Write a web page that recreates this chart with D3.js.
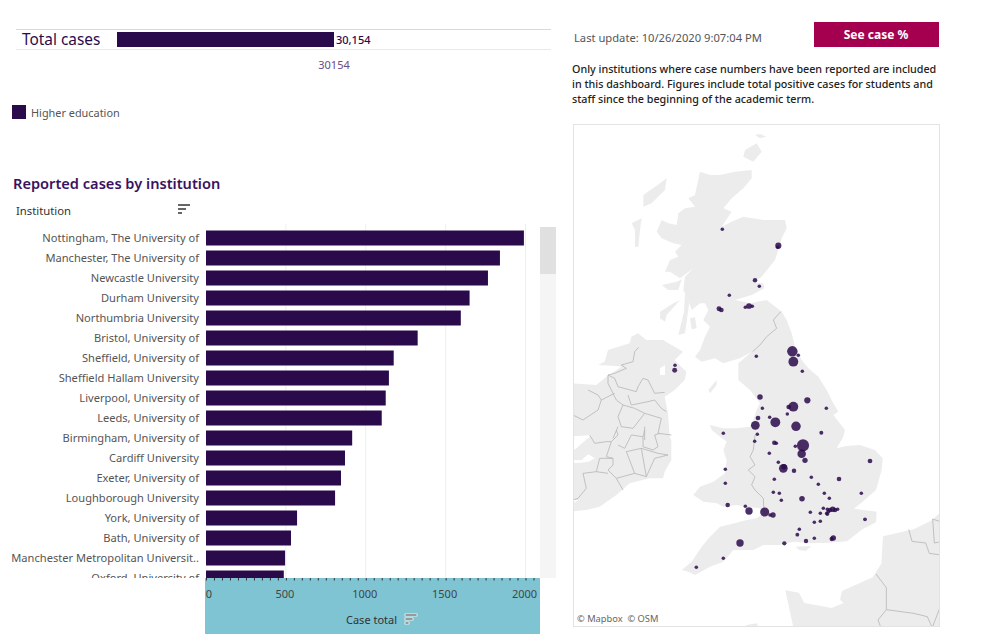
<!DOCTYPE html>
<html><head><meta charset="utf-8">
<style>html,body{margin:0;padding:0;background:#fff}svg{display:block}text{font-family:"Noto Sans",sans-serif}</style>
<script src="https://cdn.jsdelivr.net/npm/d3@7"></script></head><body>
<svg id="c" width="984" height="639"></svg>
<script>
const institutions=["Nottingham, The University of","Manchester, The University of","Newcastle University","Durham University","Northumbria University","Bristol, University of","Sheffield, University of","Sheffield Hallam University","Liverpool, University of","Leeds, University of","Birmingham, University of","Cardiff University","Exeter, University of","Loughborough University","York, University of","Bath, University of","Manchester Metropolitan Universit..","Oxford, University of"];
const caseTotals=[1990,1840,1765,1650,1595,1325,1175,1145,1125,1100,915,870,845,808,570,532,495,487];
const xTicks=[0,500,1000,1500,2000];
const totalCases=30154;
const noteLines=["Only institutions where case numbers have been reported are included","in this dashboard. Figures include total positive cases for students and","staff since the beginning of the academic term."];
// map grid units, [east, south, reported cases]
const mapPoints=[[487,328,25],[655,377,280],[653,382,25],[585,481,90],[598,499,25],[508,526,25],[567,558,220],[556,562,25],[577,559,25],[477,566,130],[484,570,110],[697,694,1300],[715,706,25],[700,725,1100],[589,709,25],[727,754,25],[345,736,25],[344,751,130],[600,831,200],[742,841,300],[700,860,1100],[686,861,100],[607,865,25],[799,865,25],[682,882,25],[594,894,110],[629,892,25],[586,916,800],[646,907,1100],[708,919,1000],[784,938,50],[490,940,25],[592,943,25],[584,964,25],[643,968,90],[649,970,25],[729,976,1900],[706,979,25],[725,1001,750],[735,1021,170],[628,1000,25],[930,1023,110],[655,1027,25],[670,1045,800],[672,1040,200],[702,1052,90],[496,1048,25],[754,1072,25],[837,1077,100],[643,1078,25],[775,1093,25],[496,1090,25],[793,1120,25],[640,1117,25],[658,1120,25],[904,1120,25],[664,1141,25],[808,1135,25],[726,1136,200],[503,1155,90],[556,1159,25],[567,1173,500],[614,1176,900],[639,1185,180],[630,1185,25],[818,1168,200],[810,1170,90],[825,1170,90],[790,1165,25],[802,1168,25],[833,1168,25],[805,1175,40],[800,1180,25],[802,1183,25],[751,1177,25],[781,1180,25],[763,1207,25],[781,1204,25],[915,1198,40],[718,1228,25],[712,1244,40],[673,1270,70],[738,1263,80],[763,1255,25],[820,1254,170],[815,1257,70],[540,1269,500],[490,1315,25],[409,1342,25]];
const britain=[[420,155],[450,165],[480,165],[525,155],[575,150],[575,175],[550,205],[515,235],[490,265],[515,275],[495,305],[485,320],[515,305],[550,290],[610,300],[675,300],[680,325],[665,355],[650,405],[645,420],[605,470],[580,488],[610,490],[613,505],[575,525],[525,540],[570,550],[620,540],[665,575],[680,600],[695,640],[705,680],[725,720],[745,745],[775,770],[800,810],[820,850],[835,875],[820,885],[855,930],[850,950],[830,985],[860,978],[900,975],[945,990],[968,1015],[965,1050],[948,1110],[907,1146],[882,1166],[950,1175],[948,1207],[907,1228],[861,1264],[794,1269],[753,1269],[700,1265],[660,1275],[610,1275],[580,1290],[550,1290],[520,1290],[490,1325],[450,1340],[405,1365],[385,1355],[365,1350],[395,1325],[425,1280],[450,1250],[480,1220],[530,1208],[560,1200],[590,1195],[610,1180],[600,1165],[560,1160],[530,1155],[490,1160],[470,1150],[430,1145],[400,1125],[420,1100],[460,1085],[495,1060],[500,1020],[490,990],[500,965],[455,930],[450,915],[490,925],[530,925],[570,920],[580,900],[590,870],[600,850],[570,810],[535,780],[535,730],[575,695],[540,715],[490,730],[465,715],[425,725],[405,710],[420,690],[435,650],[450,620],[430,600],[445,570],[435,550],[420,550],[395,570],[385,540],[370,510],[375,470],[400,445],[360,475],[330,455],[315,455],[330,420],[355,410],[345,395],[365,375],[340,370],[305,355],[290,335],[305,300],[325,310],[350,315],[355,280],[375,265],[405,260],[385,235],[405,225],[410,200]];
const scottishIslands=[[[320,175],[300,190],[250,225],[250,260],[275,250],[315,210]],[[215,310],[245,295],[240,330],[235,380],[225,380],[225,330]],[[305,495],[350,485],[365,478],[355,510],[325,510]],[[555,90],[590,70],[605,95],[580,125],[550,110]],[[585,45],[600,42],[620,50],[600,55]],[[355,645],[375,640],[382,590],[388,545],[375,520],[372,575]],[[390,595],[405,592],[410,625],[395,628]],[[300,575],[340,550],[360,540],[320,585],[315,605],[300,595]],[[445,810],[470,780],[470,795],[450,820]],[[707,1280],[753,1278],[738,1293],[717,1290]]];
const ireland=[[114,735],[134,725],[144,690],[209,670],[214,650],[234,640],[259,660],[309,660],[369,695],[344,720],[379,755],[374,780],[344,810],[314,830],[324,880],[329,950],[334,960],[334,1020],[314,1055],[309,1075],[269,1075],[209,1090],[169,1125],[119,1160],[79,1170],[30,1175],[30,790],[109,795],[139,770],[184,740],[169,738]];
const continent=[[676,1411],[717,1418],[733,1449],[763,1454],[815,1464],[851,1449],[840,1439],[846,1413],[938,1372],[964,1331],[969,1249],[1061,1228],[1113,1202],[1154,1166],[1154,1531],[702,1531]];
const brittany=[[540,1530],[560,1515],[590,1510],[600,1530]];
const lakes=[[[300,745],[315,735],[315,765],[300,765]],[[30,950],[95,945],[60,975],[50,985],[30,995]],[[30,1020],[64,1021],[85,1003],[105,1015],[85,1025],[64,1028],[30,1030]],[[30,1143],[55,1140],[35,1152]]];
const borders=[[[662,575],[640,600],[650,625],[620,650],[600,675],[578,695]],[[585,945],[580,990],[570,1010],[585,1035],[565,1050],[585,1070],[575,1095],[585,1110],[610,1135],[612,1175]],[[236,682],[224,695],[219,725],[184,735],[199,745],[164,760],[144,765],[164,775],[174,800],[229,815],[234,800],[249,775],[264,780],[284,820],[314,817]],[[144,765],[144,790],[169,840],[189,855],[174,890],[184,920],[219,925],[254,880],[224,865],[189,855]],[[84,810],[114,825],[124,840],[164,820]],[[124,840],[114,870],[69,900],[39,885]],[[204,825],[214,855],[264,845],[284,840],[304,865],[319,875]],[[254,880],[304,895],[294,940],[334,945]],[[174,920],[159,955]],[[254,920],[254,960]],[[169,930],[174,945],[154,965],[139,1010],[159,1015],[159,1035],[144,1050],[169,1075],[189,1110]],[[89,945],[104,970],[139,965],[154,965]],[[174,975],[194,985],[214,945],[249,950],[249,980],[279,990],[294,980],[284,945],[299,940]],[[254,930],[249,950]],[[199,995],[244,985],[259,1070],[224,1060],[199,995]],[[244,985],[294,1000],[324,1005],[284,1015],[259,1070]],[[69,1060],[79,1105],[54,1135],[39,1140]],[[69,1060],[109,1055],[144,1060]],[[109,1055],[119,1015],[159,1015]],[[224,1060],[169,1075]],[[1046,1228],[1056,1264],[1097,1269],[1108,1300],[1143,1305],[1143,1331]],[[1118,1197],[1123,1269],[1149,1264]],[[1118,1197],[1149,1208]],[[948,1362],[979,1403],[979,1469],[954,1500],[964,1526]],[[979,1469],[1061,1480],[1102,1490],[1118,1526]],[[1118,1520],[1143,1454]]];

const ink="#2b0a4c",svg=d3.select("#c");
// top summary
svg.append("line").attr("x1",16).attr("x2",551).attr("y1",29.5).attr("y2",29.5).attr("stroke","#d9d9d9");
svg.append("line").attr("x1",16).attr("x2",551).attr("y1",49.5).attr("y2",49.5).attr("stroke","#e9e9e9");
svg.append("text").attr("x",22).attr("y",45).attr("font-size",15.4).attr("fill",ink).text("Total cases");
const xTotal=d3.scaleLinear().domain([0,totalCases]).range([117,334]);
svg.append("rect").attr("x",xTotal(0)).attr("y",32).attr("width",xTotal(totalCases)-xTotal(0)).attr("height",15).attr("fill",ink);
svg.append("text").attr("x",336).attr("y",44).attr("font-size",11).attr("font-weight",500).attr("fill",ink).text(d3.format(",")(totalCases));
svg.append("text").attr("x",xTotal(totalCases)).attr("y",69).attr("text-anchor","middle").attr("font-size",11).attr("fill","#6a4c86").text(totalCases);
svg.append("rect").attr("x",12).attr("y",105).attr("width",14).attr("height",14).attr("fill",ink);
svg.append("text").attr("x",31).attr("y",117).attr("font-size",10.9).attr("fill","#555").text("Higher education");
svg.append("text").attr("x",13).attr("y",189).attr("font-size",14.6).attr("font-weight",600).attr("fill","#3a1260").text("Reported cases by institution");
svg.append("text").attr("x",16).attr("y",215).attr("font-size",11.3).attr("fill","#333").text("Institution");
function sortIcon(g,x,y,c,edge){[12,8,4].forEach((w,i)=>{const b=g.append("rect").attr("x",x).attr("y",y+i*4).attr("width",w).attr("height",2).attr("fill",c);if(edge)b.attr("stroke","#fff").attr("stroke-width",.8);});}
sortIcon(svg,178,204,"#666",false);

// bars
const x=d3.scaleLinear().domain([0,2000]).range([206,525.5]);
const y=d3.scaleBand().domain(institutions).range([228,588]).paddingInner(.25).paddingOuter(.125);
const defs=svg.append("defs");
defs.append("clipPath").attr("id","list").append("rect").attr("x",0).attr("y",222).attr("width",540).attr("height",356);
defs.append("clipPath").attr("id","panel").append("rect").attr("x",574).attr("y",125).attr("width",365).attr("height",501);
const list=svg.append("g").attr("clip-path","url(#list)");
list.selectAll("line.g").data(xTicks.slice(1)).join("line").attr("class","g").attr("x1",d=>x(d)).attr("x2",d=>x(d)).attr("y1",224).attr("y2",578).attr("stroke","#eee");
list.selectAll("rect").data(institutions).join("rect").attr("x",x(0)).attr("y",d=>y(d)).attr("height",y.bandwidth()).attr("width",(d,i)=>x(caseTotals[i])-x(0)).attr("fill",ink);
list.selectAll("text").data(institutions).join("text").attr("x",199).attr("y",d=>y(d)+y.bandwidth()/2+4).attr("text-anchor","end").attr("font-size",11.1).attr("fill","#555").text(d=>d);
svg.append("rect").attr("x",540).attr("y",227).attr("width",16).attr("height",351).attr("fill","#f5f5f5");
svg.append("rect").attr("x",540).attr("y",227).attr("width",16).attr("height",47).attr("fill","#e0e0e0");
svg.append("rect").attr("x",205).attr("y",578).attr("width",335).attr("height",56).attr("fill","#7fc4d3");
const ax=svg.append("g").attr("transform","translate(0,578)").call(d3.axisBottom(x).tickValues(d3.range(0,2051,50)).tickSize(2.5).tickFormat(""));
ax.select(".domain").remove();ax.selectAll("line").attr("stroke","#333");
svg.append("g").selectAll("text").data(xTicks).join("text").attr("x",d=>d===0?x(d)+3:x(d)-1).attr("y",598).attr("text-anchor","middle").attr("font-size",11).attr("fill","#444").text(d=>d);
svg.append("text").attr("x",346).attr("y",624).attr("font-size",11).attr("fill","#333").text("Case total");
sortIcon(svg,405,614,"#555",true);

// header right
svg.append("text").attr("x",574).attr("y",42).attr("font-size",11.2).attr("fill","#555").text("Last update: 10/26/2020 9:07:04 PM");
svg.append("rect").attr("x",814).attr("y",22).attr("width",125).attr("height",25).attr("fill","#a50050");
svg.append("text").attr("x",876).attr("y",39).attr("text-anchor","middle").attr("font-size",12).attr("font-weight",700).attr("fill","#fff").text("See case %");
svg.append("g").selectAll("text").data(noteLines).join("text").attr("x",572).attr("y",(d,i)=>73+i*15).attr("font-size",10.74).attr("font-weight",500).attr("fill","#222").text(d=>d);

// map
const mx=d3.scaleLinear().domain([0,1170]).range([560,950]);
const my=d3.scaleLinear().domain([0,1545]).range([120,635]);
const shape=d3.line().x(d=>mx(d[0])).y(d=>my(d[1]));
const closed=p=>shape(p)+"Z";
const map=svg.append("g").attr("clip-path","url(#panel)");
const land="#ececec";
map.selectAll("path.land").data([britain,ireland,continent,brittany,...scottishIslands]).join("path").attr("class","land").attr("d",closed).attr("fill",land);
map.selectAll("path.lake").data(lakes).join("path").attr("class","lake").attr("d",closed).attr("fill","#fff");
map.selectAll("path.border").data(borders).join("path").attr("class","border").attr("d",shape).attr("fill","none").attr("stroke","#b5b5b5").attr("stroke-width",.8);
const r=d3.scaleSqrt().domain([0,2000]).range([1.2,6.2]);
map.selectAll("circle").data(mapPoints).join("circle").attr("cx",d=>mx(d[0])).attr("cy",d=>my(d[1])).attr("r",d=>r(d[2])).attr("fill",ink).attr("fill-opacity",.85);
svg.append("rect").attr("x",573.5).attr("y",124.5).attr("width",366).attr("height",502).attr("fill","none").attr("stroke","#e3e3e3");
svg.append("text").attr("x",577).attr("y",622).attr("font-size",9.3).attr("fill","#666").text("© Mapbox\u00a0\u00a0© OSM");
</script></body></html>
